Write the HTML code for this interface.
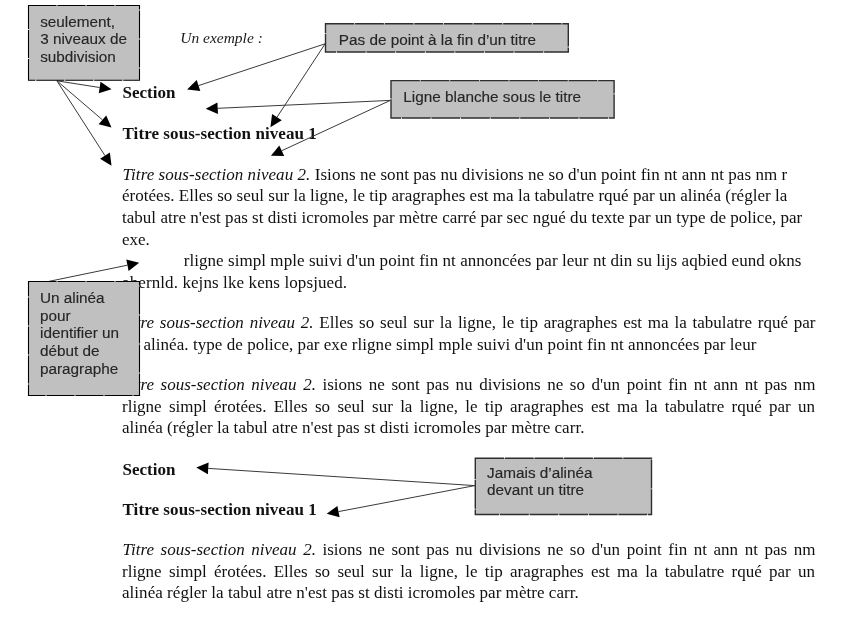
<!DOCTYPE html>
<html><head><meta charset="utf-8"><style>
html,body{margin:0;padding:0;background:#fff;}
body{width:863px;height:618px;position:relative;overflow:hidden;will-change:transform;}
.t{position:absolute;white-space:pre;font-family:"Liberation Serif",serif;font-size:17px;line-height:20px;color:#111;}
.j{text-align:justify;text-align-last:justify;white-space:normal;}
.bx{position:absolute;white-space:pre;font-family:"Liberation Sans",sans-serif;font-size:15.3px;line-height:18px;color:#262626;-webkit-text-stroke:0.15px #262626;}
svg{position:absolute;left:0;top:0;}
.ln{stroke:#3a3a3a;stroke-width:1;}
.ah{fill:#000;}
.box{fill:#c0c0c0;stroke-dasharray:28 1;}
.b1{stroke:#000;stroke-width:1.1;}
.b2{stroke:#2e2e2e;stroke-width:1.4;stroke-dasharray:28.8 0.8;}
</style></head><body>

<div class="t" style="left:180.2px;top:28.30px"><i style="font-size:15.5px;color:#1a1a1a">Un exemple :</i></div>
<div class="t" style="left:122.5px;top:82.90px"><b>Section</b></div>
<div class="t" style="left:122.5px;top:123.90px"><span style="letter-spacing:0.07px"><b>Titre sous-section niveau 1</b></span></div>
<div class="t" style="left:122.5px;top:164.70px"><span style="letter-spacing:0.055px"><i>Titre sous-section niveau 2.</i> Isions ne sont pas nu divisions ne so d'un point fin nt ann nt pas nm r</span></div>
<div class="t" style="left:122px;top:186.30px"><span style="letter-spacing:0.02px">érotées. Elles so seul sur la ligne, le tip aragraphes est ma la tabulatre rqué par un alinéa (régler la</span></div>
<div class="t" style="left:122px;top:207.90px"><span style="letter-spacing:0.026px">tabul atre n'est pas st disti icromoles par mètre carré par sec ngué du texte par un type de police, par</span></div>
<div class="t" style="left:122px;top:229.50px">exe.</div>
<div class="t" style="left:183.7px;top:250.60px"><span style="letter-spacing:0.056px">rligne simpl mple suivi d'un point fin nt annoncées par leur nt din su lijs aqbied eund okns</span></div>
<div class="t" style="left:122px;top:272.50px"><span style="letter-spacing:0.1px">ahernld. kejns lke kens lopsjued.</span></div>
<div class="t j" style="left:122.5px;top:312.90px;width:693px"><i>Titre sous-section niveau 2.</i> Elles so seul sur la ligne, le tip aragraphes est ma la tabulatre rqué par</div>
<div class="t" style="left:122px;top:334.60px"><span style="letter-spacing:0.052px">un alinéa. type de police, par exe rligne simpl mple suivi d'un point fin nt annoncées par leur</span></div>
<div class="t j" style="left:122.5px;top:375.00px;width:693px"><i>Titre sous-section niveau 2.</i> isions ne sont pas nu divisions ne so d'un point fin nt ann nt pas nm</div>
<div class="t j" style="left:122px;top:396.70px;width:693px">rligne simpl érotées. Elles so seul sur la ligne, le tip aragraphes est ma la tabulatre rqué par un</div>
<div class="t" style="left:122px;top:417.90px"><span style="letter-spacing:0.04px">alinéa (régler la tabul atre n'est pas st disti icromoles par mètre carr.</span></div>
<div class="t" style="left:122.5px;top:459.80px"><b>Section</b></div>
<div class="t" style="left:122.5px;top:500.20px"><span style="letter-spacing:0.07px"><b>Titre sous-section niveau 1</b></span></div>
<div class="t j" style="left:122.5px;top:540.10px;width:693px"><i>Titre sous-section niveau 2.</i> isions ne sont pas nu divisions ne so d'un point fin nt ann nt pas nm</div>
<div class="t j" style="left:122px;top:561.70px;width:693px">rligne simpl érotées. Elles so seul sur la ligne, le tip aragraphes est ma la tabulatre rqué par un</div>
<div class="t" style="left:122px;top:583.20px"><span style="letter-spacing:0.04px">alinéa régler la tabul atre n'est pas st disti icromoles par mètre carr.</span></div>
<svg width="863" height="618" viewBox="0 0 863 618">
<line x1="56.9" y1="80.8" x2="99.6" y2="87.5" class="ln"/>
<polygon points="111.5,89.3 98.8,93.2 100.5,81.7" class="ah"/>
<line x1="56.9" y1="80.8" x2="102.4" y2="119.8" class="ln"/>
<polygon points="111.5,127.6 98.6,124.2 106.2,115.4" class="ah"/>
<line x1="56.9" y1="80.8" x2="105.0" y2="155.7" class="ln"/>
<polygon points="111.5,165.8 100.1,158.8 109.9,152.6" class="ah"/>
<line x1="325.1" y1="43.8" x2="198.5" y2="85.6" class="ln"/>
<polygon points="187.1,89.4 196.7,80.1 200.3,91.1" class="ah"/>
<line x1="325.1" y1="43.8" x2="277.0" y2="117.2" class="ln"/>
<polygon points="270.4,127.2 272.1,114.0 281.8,120.3" class="ah"/>
<line x1="390.3" y1="100.4" x2="217.7" y2="108.3" class="ln"/>
<polygon points="205.7,108.8 217.4,102.5 218.0,114.0" class="ah"/>
<line x1="390.3" y1="100.4" x2="281.8" y2="150.7" class="ln"/>
<polygon points="270.9,155.8 279.3,145.5 284.2,156.0" class="ah"/>
<line x1="48.8" y1="281.4" x2="127.4" y2="265.2" class="ln"/>
<polygon points="139.2,262.8 128.6,270.9 126.3,259.5" class="ah"/>
<line x1="474.8" y1="485.6" x2="208.3" y2="468.4" class="ln"/>
<polygon points="196.3,467.6 208.6,462.6 207.9,474.2" class="ah"/>
<line x1="474.8" y1="485.6" x2="338.5" y2="511.6" class="ln"/>
<polygon points="326.7,513.8 337.4,505.9 339.6,517.3" class="ah"/>
<rect x="28.5" y="5.5" width="111.0" height="74.8" class="box b1"/>
<rect x="325.5" y="23.8" width="242.8" height="28.2" class="box b2"/>
<rect x="391.0" y="80.6" width="223.1" height="37.4" class="box b2"/>
<rect x="28.5" y="281.5" width="111.0" height="114.0" class="box b1"/>
<rect x="475.3" y="458.2" width="176.2" height="56.3" class="box b2"/>
</svg>
<div class="bx" style="left:40.2px;top:12.60px">seulement,</div>
<div class="bx" style="left:40.2px;top:30.25px">3 niveaux de</div>
<div class="bx" style="left:40.2px;top:47.90px">subdivision</div>
<div class="bx" style="left:338.8px;top:30.50px">Pas de point à la fin d’un titre</div>
<div class="bx" style="left:403.3px;top:87.60px">Ligne blanche sous le titre</div>
<div class="bx" style="left:40px;top:288.60px">Un alinéa</div>
<div class="bx" style="left:40px;top:306.50px">pour</div>
<div class="bx" style="left:40px;top:324.40px">identifier un</div>
<div class="bx" style="left:40px;top:342.30px">début de</div>
<div class="bx" style="left:40px;top:360.20px">paragraphe</div>
<div class="bx" style="left:487.1px;top:464.30px">Jamais d’alinéa</div>
<div class="bx" style="left:487.1px;top:481.30px">devant un titre</div>
</body></html>
